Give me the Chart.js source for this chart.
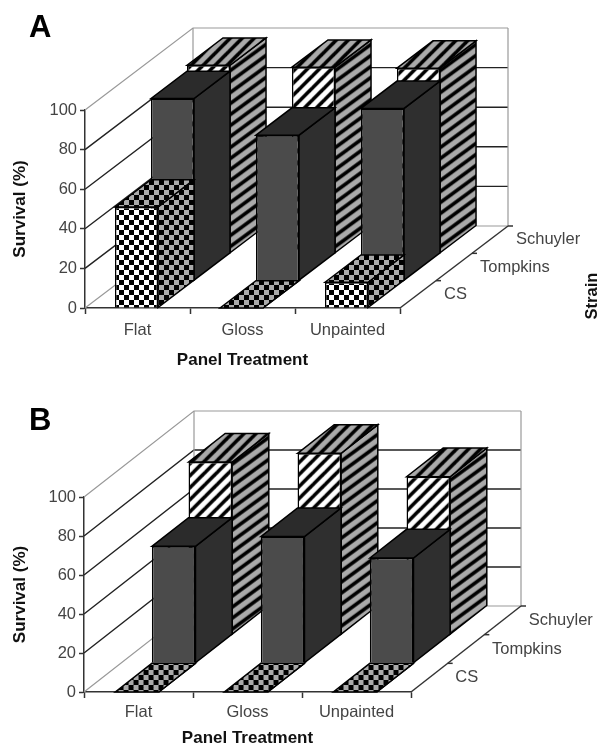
<!DOCTYPE html>
<html lang="en">
<head>
    <meta charset="UTF-8">
    <title>Survival by panel treatment and strain</title>
    <style>
        html, body { margin: 0; padding: 0; background: #fff; overflow: hidden; }
        canvas { position: absolute; left: 0; }
        #panelA { top: 0; }
        #panelB { top: 375px; }
    </style>
    <script src="https://cdn.jsdelivr.net/npm/chart.js@4"></script>
</head>
<body>
    <canvas id="panelA" width="599" height="375"></canvas>
    <canvas id="panelB" width="599" height="370"></canvas>

    <script>
        var categories = ['Flat', 'Gloss', 'Unpainted'];
        var strains = ['CS', 'Tompkins', 'Schuyler'];
        var yTicks = [0, 20, 40, 60, 80, 100];

        var panelA_CS = [51, 0, 13];
        var panelA_Tompkins = [92, 73.5, 87];
        var panelA_Schuyler = [95, 94, 93.5];

        var panelB_CS = [0, 0, 0];
        var panelB_Tompkins = [60, 65, 54];
        var panelB_Schuyler = [88.5, 93, 81];

        var FONT = '"Liberation Sans", Arial, sans-serif';
        var TEXT = '#444';
        var AXIS = '#333';
        var WALL = '#999';

        function tile(w, h, bg, draw) {
            var c = document.createElement('canvas');
            c.width = w;
            c.height = h;
            var t = c.getContext('2d');
            t.fillStyle = bg;
            t.fillRect(0, 0, w, h);
            t.fillStyle = '#000';
            t.strokeStyle = '#000';
            draw(t);
            return document.createElement('canvas').getContext('2d').createPattern(c, 'repeat');
        }

        function checks(bg) {
            return tile(10, 10, bg, function (t) {
                t.fillRect(0, 0, 5, 5);
                t.fillRect(5, 5, 5, 5);
            });
        }

        function stripes(bg, w, h) {
            return tile(w, h, bg, function (t) {
                t.lineWidth = 3.6;
                // run past the tile so the corners join up when it repeats
                [-1, 0, 1].forEach(function (k) {
                    t.beginPath();
                    t.moveTo(k * w - w, 2 * h);
                    t.lineTo(k * w + 2 * w, -h);
                    t.stroke();
                });
            });
        }

        // front is drawn by the bar element, side and top are added by the plugin
        var faces = [
            { front: checks('#fff'), side: checks('#aaa'), top: checks('#aaa') },
            { front: '#4b4b4b', side: '#2f2f2f', top: '#2b2b2b' },
            { front: stripes('#fff', 12, 12), side: stripes('#aaa', 15, 11), top: stripes('#aaa', 12, 12) }
        ];

        function face(ctx, pts, fill) {
            ctx.beginPath();
            ctx.moveTo(pts[0][0], pts[0][1]);
            for (var i = 1; i < pts.length; i++) ctx.lineTo(pts[i][0], pts[i][1]);
            ctx.closePath();
            ctx.fillStyle = fill;
            ctx.fill();
            ctx.strokeStyle = '#000';
            ctx.lineWidth = 1.5;
            ctx.stroke();
        }

        function line(ctx, x1, y1, x2, y2, color, width) {
            ctx.beginPath();
            ctx.moveTo(x1, y1);
            ctx.lineTo(x2, y2);
            ctx.strokeStyle = color;
            ctx.lineWidth = width;
            ctx.stroke();
        }

        var depth3d = {
            id: 'depth3d',
            beforeDatasetsDraw: function (chart, args, o) {
                var ctx = chart.ctx, a = chart.chartArea, y = chart.scales.y;
                ctx.save();
                yTicks.forEach(function (v) {
                    var p = y.getPixelForValue(v);
                    var edge = v === 0 || v === 100;
                    var c = edge ? WALL : '#222';
                    ctx.beginPath();
                    ctx.moveTo(a.left, p);
                    ctx.lineTo(a.left + o.dx, p + o.dy);
                    ctx.lineTo(a.right + o.dx, p + o.dy);
                    ctx.strokeStyle = c;
                    ctx.lineWidth = edge ? 1.2 : 1.4;
                    ctx.stroke();
                });
                var top = y.getPixelForValue(100) + o.dy, floor = y.getPixelForValue(0) + o.dy;
                line(ctx, a.left + o.dx, top, a.left + o.dx, floor, WALL, 1.2);
                line(ctx, a.right + o.dx, top, a.right + o.dx, floor, WALL, 1.2);
                ctx.restore();
            },
            beforeDatasetDraw: function (chart, args, o) {
                var ctx = chart.ctx;
                var sx = o.dx / strains.length, sy = o.dy / strains.length;
                var ox = sx * args.index + o.shift, oy = sy * args.index;
                ctx.save();
                ctx.translate(ox, oy);
                args.meta.data.forEach(function (bar) {
                    var l = bar.x - bar.width / 2, r = bar.x + bar.width / 2;
                    var t = bar.y, b = bar.base;
                    face(ctx, [[r, t], [r + sx, t + sy], [r + sx, b + sy], [r, b]], faces[args.index].side);
                    face(ctx, [[l, t], [l + sx, t + sy], [r + sx, t + sy], [r, t]], faces[args.index].top);
                });
            },
            afterDatasetDraw: function (chart) {
                chart.ctx.restore();
            },
            afterDatasetsDraw: function (chart, args, o) {
                var ctx = chart.ctx, a = chart.chartArea;
                ctx.save();
                // depth axis along the right edge of the floor
                line(ctx, a.right, a.bottom, a.right + o.dx, a.bottom + o.dy, AXIS, 1.5);
                ctx.font = '16.5px ' + FONT;
                ctx.textBaseline = 'middle';
                ctx.textAlign = 'left';
                strains.forEach(function (name, i) {
                    var n = strains.length;
                    var tx = a.right + o.dx * (i + 1) / n, ty = a.bottom + o.dy * (i + 1) / n;
                    line(ctx, tx, ty, tx + 5, ty, AXIS, 1.5);
                    ctx.fillStyle = TEXT;
                    ctx.fillText(name, a.right + o.dx * (i + 0.5) / n + 26, a.bottom + o.dy * (i + 0.5) / n);
                });
                ctx.fillStyle = '#000';
                ctx.font = 'bold 31px ' + FONT;
                ctx.textBaseline = 'alphabetic';
                ctx.fillText(o.letter, 29, o.letterY);
                if (o.strainY) {
                    ctx.translate(592, o.strainY);
                    ctx.rotate(-Math.PI / 2);
                    ctx.font = 'bold 16.5px ' + FONT;
                    ctx.textAlign = 'center';
                    ctx.textBaseline = 'middle';
                    ctx.fillStyle = '#111';
                    ctx.fillText('Strain', 0, 0);
                }
                ctx.restore();
            }
        };

        function makePanel(id, cs, tompkins, schuyler, box) {
            new Chart(document.getElementById(id), {
                type: 'bar',
                data: {
                    labels: categories,
                    datasets: [cs, tompkins, schuyler].map(function (values, i) {
                        return {
                            label: strains[i],
                            data: values,
                            grouped: false,
                            clip: false,
                            backgroundColor: faces[i].front,
                            borderColor: '#000',
                            borderWidth: 1.5,
                            barPercentage: box.barPercentage,
                            categoryPercentage: 1
                        };
                    })
                },
                options: {
                    responsive: false,
                    animation: false,
                    devicePixelRatio: 1,
                    layout: { padding: { left: 0, right: box.right, top: box.top, bottom: 0 } },
                    plugins: {
                        legend: { display: false },
                        tooltip: { enabled: false },
                        depth3d: { dx: box.dx, dy: box.dy, shift: box.shift, letter: box.letter, letterY: box.letterY, strainY: box.strainY }
                    },
                    scales: {
                        x: {
                            afterFit: function (s) { s.height = box.axisHeight; },
                            grid: { drawOnChartArea: false, tickLength: 6, tickColor: AXIS, tickWidth: 1.5 },
                            border: { color: AXIS, width: 1.5 },
                            ticks: { color: TEXT, padding: box.tickPadding, maxRotation: 0, font: { family: FONT, size: 16.5 } },
                            title: {
                                display: true,
                                text: 'Panel Treatment',
                                color: '#111',
                                padding: { top: 0, bottom: box.titleBottom },
                                font: { family: FONT, size: 17, weight: 'bold', lineHeight: 1 }
                            }
                        },
                        y: {
                            min: 0,
                            max: 100,
                            afterBuildTicks: function (s) { s.ticks = yTicks.map(function (v) { return { value: v }; }); },
                            afterFit: function (s) { s.width = box.left; },
                            grid: { drawOnChartArea: false, tickLength: 5, tickColor: AXIS, tickWidth: 1.5 },
                            border: { color: AXIS, width: 1.5 },
                            ticks: { color: TEXT, padding: 3, font: { family: FONT, size: 16.5 } },
                            title: {
                                display: true,
                                text: 'Survival (%)',
                                color: '#111',
                                padding: { top: 12, bottom: 0 },
                                font: { family: FONT, size: 17, weight: 'bold', lineHeight: 1 }
                            }
                        }
                    }
                },
                plugins: [depth3d]
            });
        }

        makePanel('panelA', panelA_CS, panelA_Tompkins, panelA_Schuyler, {
            left: 85, right: 199, top: 110, axisHeight: 67, titleBottom: 6.5, tickPadding: 7, shift: -1,
            dx: 108, dy: -82, barPercentage: 0.41, letter: 'A', letterY: 37, strainY: 296
        });
        makePanel('panelB', panelB_CS, panelB_Tompkins, panelB_Schuyler, {
            left: 84, right: 188, top: 122, axisHeight: 53, titleBottom: -2, tickPadding: 5, shift: -1.5,
            dx: 110, dy: -86, barPercentage: 0.40, letter: 'B', letterY: 55
        });
    </script>
</body>
</html>
